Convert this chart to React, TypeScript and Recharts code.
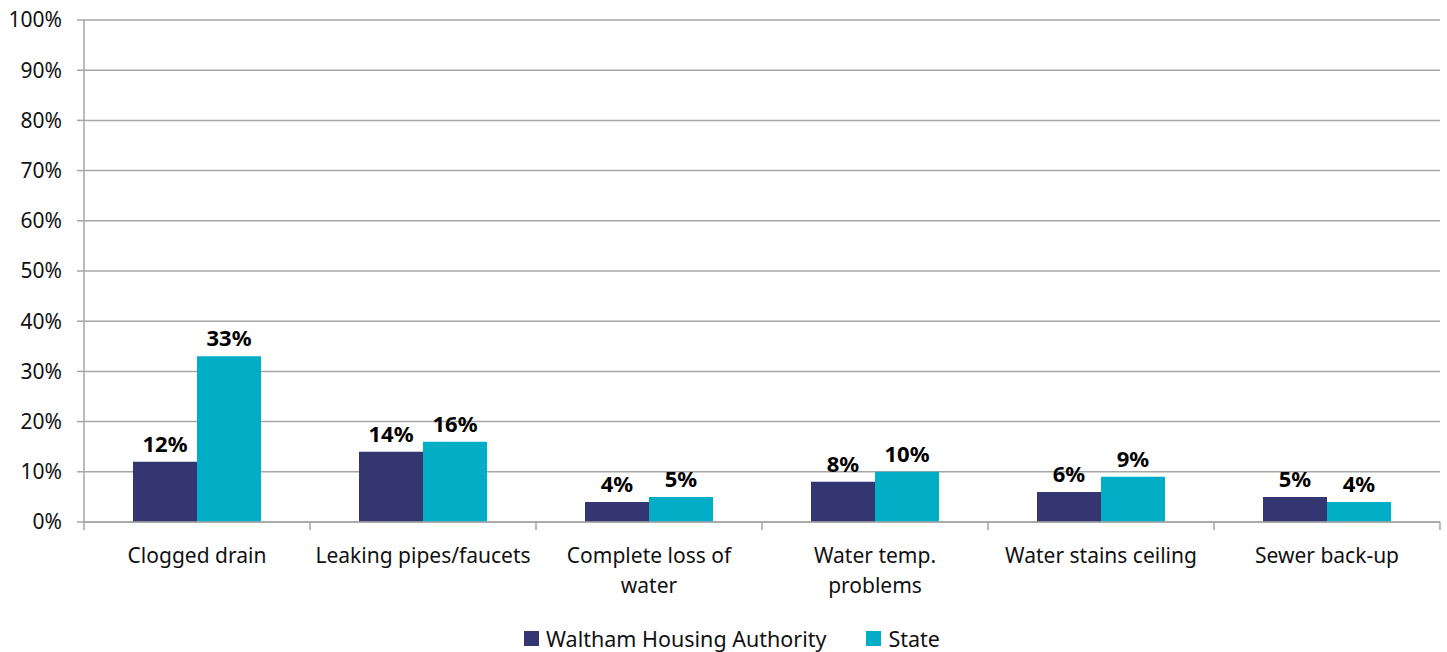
import { Bar, BarChart, CartesianGrid, LabelList, Legend, XAxis, YAxis } from 'recharts';

const CATEGORY_LINES = [
	['Clogged drain'],
	['Leaking pipes/faucets'],
	['Complete loss of', 'water'],
	['Water temp.', 'problems'],
	['Water stains ceiling'],
	['Sewer back-up'],
];
const WALTHAM = [12, 14, 4, 8, 6, 5];
const STATE = [33, 16, 5, 10, 9, 4];
const Y_TICKS = [0, 10, 20, 30, 40, 50, 60, 70, 80, 90, 100];

const SERIES = [
	{ key: 'waltham', name: 'Waltham Housing Authority', color: '#333670' },
	{ key: 'state', name: 'State', color: '#02AEC6' },
];

const FONT = '"Noto Sans", sans-serif';
const GRID = '#A6A6A6';
const BAND = (1440 - 84) / 6;

const data = CATEGORY_LINES.map((lines, i) => ({
	name: lines.join(' '),
	waltham: WALTHAM[i],
	state: STATE[i],
}));

const CategoryTick = ({ x, y, index }: any) => {
	const lines = CATEGORY_LINES[index] ?? [];
	return (
		<g>
			<line x1={x - BAND / 2} x2={x - BAND / 2} y1={y - 8} y2={y} stroke={GRID} strokeWidth={1.5} />
			{index === CATEGORY_LINES.length - 1 && (
				<line x1={x + BAND / 2} x2={x + BAND / 2} y1={y - 8} y2={y} stroke={GRID} strokeWidth={1.5} />
			)}
			{lines.map((line, j) => (
				<text key={j} x={x} y={y + 33 + j * 30} textAnchor="middle" fontSize={21} fontFamily={FONT} fill="#111">
					{line}
				</text>
			))}
		</g>
	);
};

const LegendContent = () => (
	<div style={{ display: 'flex', justifyContent: 'center', fontFamily: FONT, fontSize: 21.5, color: '#111', height: 28, alignItems: 'center', paddingLeft: 64 }}>
		{SERIES.map((s) => (
			<div key={s.key} style={{ display: 'flex', alignItems: 'center', marginRight: 40 }}>
				<span style={{ width: 15, height: 15, background: s.color, display: 'inline-block', marginRight: 7 }} />
				<span>{s.name}</span>
			</div>
		))}
	</div>
);

export default function App() {
	return (
		<div style={{ position: 'absolute', left: 0, top: 0, background: '#fff' }}>
			<BarChart
				width={1447}
				height={652}
				data={data}
				margin={{ top: 20, right: 7, left: 0, bottom: 0 }}
				barSize={64}
				barGap={0}
			>
				<CartesianGrid vertical={false} stroke={GRID} strokeWidth={1.5} />
				<XAxis
					dataKey="name"
					axisLine={{ stroke: GRID, strokeWidth: 1.5 }}
					tickLine={false}
					tick={<CategoryTick />}
					interval={0}
					height={102}
				/>
				<YAxis
					width={84}
					domain={[0, 100]}
					ticks={Y_TICKS}
					tickFormatter={(v) => `${v}%`}
					axisLine={{ stroke: GRID, strokeWidth: 1.5 }}
					tickLine={{ stroke: GRID, strokeWidth: 1.5 }}
					tickSize={7}
					tickMargin={15}
					tick={{ fontSize: 21, fontFamily: FONT, fill: '#111' }}
				/>
				<Legend verticalAlign="bottom" content={<LegendContent />} />
				{SERIES.map((s) => (
					<Bar key={s.key} dataKey={s.key} name={s.name} fill={s.color} isAnimationActive={false}>
						<LabelList
							dataKey={s.key}
							position="top"
							offset={10}
							formatter={(v: any) => `${v}%`}
							style={{ fontFamily: FONT, fontSize: 22, fontWeight: 700, fill: '#000' }}
						/>
					</Bar>
				))}
			</BarChart>
		</div>
	);
}
